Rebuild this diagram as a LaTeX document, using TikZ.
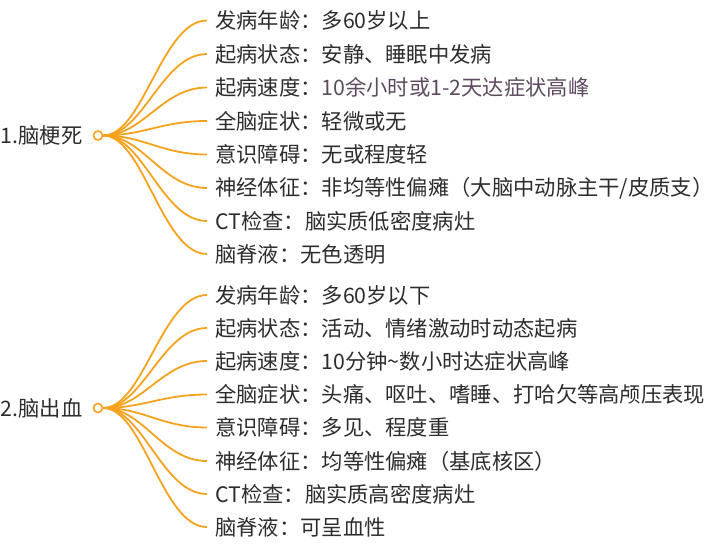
\documentclass[tikz,border=0pt]{standalone}
\usepackage{fontspec}
\setmainfont{Noto Sans CJK SC}
\usepackage{xcolor}
\usepackage{tikz}

\definecolor{branch}{RGB}{245,163,30}
\definecolor{ink}{RGB}{45,45,45}
\definecolor{note}{RGB}{94,74,96}

\tikzset{
    leaf/.style={anchor=west, inner xsep=8pt, inner ysep=2pt, text=ink, font=\fontsize{21.3}{25}\selectfont},
    root/.style={anchor=east, inner xsep=4pt, text=ink, font=\fontsize{21.3}{25}\selectfont},
    knot/.style={circle, draw=branch, fill=white, line width=1.6pt, minimum size=9pt, inner sep=0pt},
    twig/.style={draw=branch, line width=1.8pt}
}

\begin{document}
\begin{tikzpicture}[x=1pt, y=-1pt]
        \useasboundingbox (0,0) rectangle (718,546);

        % 1. infarction
        \node[knot] (k1) at (98,135.5) {};
        \node[root] (r1) at ([xshift=-6pt]k1.west) {1.脑梗死};
        \node[leaf] (a1) at (207,20.5) {发病年龄：多60岁以上};
        \node[leaf] (a2) at (207,54) {起病状态：安静、睡眠中发病};
        \node[leaf] (a3) at (207,87.5) {起病速度：\textcolor{note}{10余小时或1-2天达症状高峰}};
        \node[leaf] (a4) at (207,121) {全脑症状：轻微或无};
        \node[leaf] (a5) at (207,154.5) {意识障碍：无或程度轻};
        \node[leaf] (a6) at (207,188) {神经体征：非均等性偏瘫（大脑中动脉主干/皮质支）};
        \node[leaf] (a7) at (207,221) {CT检查：脑实质低密度病灶};
        \node[leaf] (a8) at (207,254) {脑脊液：无色透明};

        % 2. haemorrhage
        \node[knot] (k2) at (98,408) {};
        \node[root] (r2) at ([xshift=-6pt]k2.west) {2.脑出血};
        \node[leaf] (b1) at (207,295) {发病年龄：多60岁以下};
        \node[leaf] (b2) at (207,328) {起病状态：活动、情绪激动时动态起病};
        \node[leaf] (b3) at (207,361) {起病速度：10分钟\textasciitilde 数小时达症状高峰};
        \node[leaf] (b4) at (207,394.5) {全脑症状：头痛、呕吐、嗜睡、打哈欠等高颅压表现};
        \node[leaf] (b5) at (207,427.5) {意识障碍：多见、程度重};
        \node[leaf] (b6) at (207,461) {神经体征：均等性偏瘫（基底核区）};
        \node[leaf] (b7) at (207,494) {CT检查：脑实质高密度病灶};
        \node[leaf] (b8) at (207,527) {脑脊液：可呈血性};

        \foreach \i in {1,...,8} {
            \draw[twig] (k1.east) .. controls ([xshift=40pt]k1.east) and ([xshift=-45pt]a\i.west) .. (a\i.west);
            \draw[twig] (k2.east) .. controls ([xshift=40pt]k2.east) and ([xshift=-45pt]b\i.west) .. (b\i.west);
        }
    \end{tikzpicture}
\end{document}
